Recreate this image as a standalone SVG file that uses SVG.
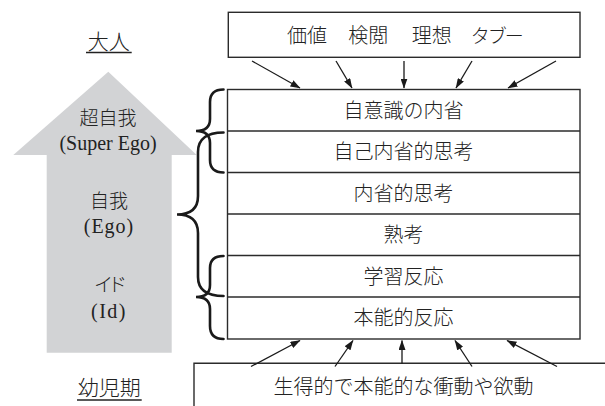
<svg xmlns="http://www.w3.org/2000/svg" width="605" height="406" viewBox="0 0 605 406">
<style>
  .jp { font-family: "Noto Sans CJK JP", "Noto Sans", sans-serif; font-weight: 300; fill: #222; }
  .lat { font-family: "Liberation Serif", "Noto Sans CJK JP", serif; fill: #222; }
  .box { fill: #fff; stroke: #2b2b2b; stroke-width: 1.4; }
  .row { stroke: #2b2b2b; stroke-width: 1.4; }
  .arr { stroke: #1a1a1a; stroke-width: 1.3; fill: none; marker-end: url(#ah); }
  .brace { fill: none; stroke: #1a1a1a; stroke-width: 2.6; stroke-linecap: round; }
  .ul { stroke: #222; stroke-width: 1.3; }
</style>
<defs>
  <marker id="ah" viewBox="0 0 10 7" refX="9.5" refY="3.5" markerWidth="10" markerHeight="7" markerUnits="userSpaceOnUse" orient="auto">
    <path d="M0,0 L10,3.5 L0,7 Z" fill="#1a1a1a"/>
  </marker>
</defs>
<rect width="605" height="406" fill="#fff"/>

<g id="growth-arrow">
  <path d="M108.3,71.7 L196.7,155 L171.7,155 L171.7,352.7 L46.7,352.7 L46.7,155 L13.3,155 Z" fill="#d2d3d5"/>
  <text class="jp" x="108" y="125" font-size="19" text-anchor="middle">超自我</text>
  <text class="lat" x="108" y="150" font-size="20" text-anchor="middle">(Super Ego)</text>
  <text class="jp" x="109" y="208" font-size="19" text-anchor="middle">自我</text>
  <text class="lat" x="109" y="233" font-size="20" text-anchor="middle" letter-spacing="1">(Ego)</text>
  <text class="jp" x="108" y="292" font-size="19" text-anchor="middle" letter-spacing="-5">イド</text>
  <text class="lat" x="109" y="318" font-size="20" text-anchor="middle" letter-spacing="1.5">(Id)</text>
</g>

<g id="label-adult">
  <text class="jp" x="108.8" y="49" font-size="21" text-anchor="middle">大人</text>
  <line class="ul" x1="86" y1="52.5" x2="131.7" y2="52.5"/>
</g>
<g id="label-infant">
  <text class="jp" x="109.3" y="394.5" font-size="21" text-anchor="middle">幼児期</text>
  <line class="ul" x1="77" y1="400" x2="141.7" y2="400"/>
</g>

<g id="top-box">
  <rect class="box" x="228.3" y="12.3" width="351.7" height="45"/>
  <text class="jp" x="307" y="42.5" font-size="20" text-anchor="middle">価値</text>
  <text class="jp" x="368.3" y="42.5" font-size="20" text-anchor="middle">検閲</text>
  <text class="jp" x="431.7" y="42.5" font-size="20" text-anchor="middle">理想</text>
  <text class="jp" x="496.3" y="42.5" font-size="19" text-anchor="middle" letter-spacing="-2">タブー</text>
</g>

<g id="stack">
  <rect class="box" x="227.5" y="89.5" width="352.5" height="249.5"/>
  <line class="row" x1="227.5" y1="131" x2="580" y2="131"/>
  <line class="row" x1="227.5" y1="172.5" x2="580" y2="172.5"/>
  <line class="row" x1="227.5" y1="214" x2="580" y2="214"/>
  <line class="row" x1="227.5" y1="255.5" x2="580" y2="255.5"/>
  <line class="row" x1="227.5" y1="297" x2="580" y2="297"/>
</g>
<g id="row-1"><text class="jp" x="403.5" y="117.5" font-size="20" text-anchor="middle">自意識の内省</text></g>
<g id="row-2"><text class="jp" x="403.5" y="159" font-size="20" text-anchor="middle">自己内省的思考</text></g>
<g id="row-3"><text class="jp" x="403.5" y="200.5" font-size="20" text-anchor="middle">内省的思考</text></g>
<g id="row-4"><text class="jp" x="403.5" y="242" font-size="20" text-anchor="middle">熟考</text></g>
<g id="row-5"><text class="jp" x="403.5" y="283.5" font-size="20" text-anchor="middle">学習反応</text></g>
<g id="row-6"><text class="jp" x="403.5" y="325" font-size="20" text-anchor="middle">本能的反応</text></g>

<g id="bottom-box">
  <path class="box" d="M194,407 V363.3 H606"/>
  <text class="jp" x="403.5" y="394" font-size="20" text-anchor="middle">生得的で本能的な衝動や欲動</text>
</g>

<g id="braces">
  <path class="brace" d="M223.5,89.5 Q210,89.5 210,102 L210,119 Q210,131 196,131 Q210,131 210,143 L210,160 Q210,172.5 223.5,172.5"/>
  <path class="brace" d="M223.5,132.5 Q198,132.5 198,152 L198,196 Q198,214.5 177,214.5 Q198,214.5 198,233 L198,277 Q198,296 223.5,296"/>
  <path class="brace" d="M223.5,256 Q210,256 210,268 L210,285 Q210,297 196,297 Q210,297 210,309 L210,326 Q210,339 223.5,339"/>
</g>

<g id="connectors">
  <line class="arr" x1="252" y1="61" x2="300" y2="88"/>
  <line class="arr" x1="336" y1="61" x2="352" y2="88"/>
  <line class="arr" x1="404" y1="61" x2="404" y2="88"/>
  <line class="arr" x1="472" y1="61" x2="456" y2="88"/>
  <line class="arr" x1="556" y1="61" x2="508" y2="88"/>
  <line class="arr" x1="251" y1="366.5" x2="300" y2="340.5"/>
  <line class="arr" x1="335" y1="366.5" x2="353" y2="340.5"/>
  <line class="arr" x1="402" y1="363.5" x2="402" y2="340.5"/>
  <line class="arr" x1="472" y1="366.5" x2="455" y2="340.5"/>
  <line class="arr" x1="557" y1="366.5" x2="507" y2="340.5"/>
</g>
</svg>
